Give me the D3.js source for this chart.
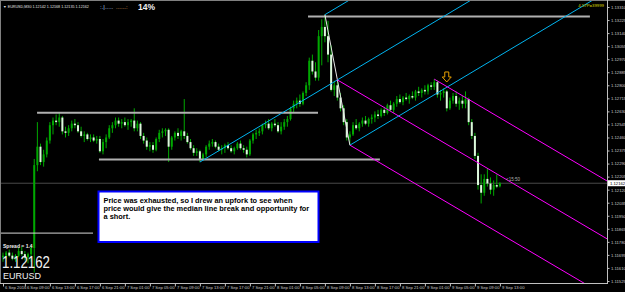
<!DOCTYPE html>
<html lang="en">
<head>
<meta charset="UTF-8">
<title>EURUSD,M30</title>
<script src="https://d3js.org/d3.v7.min.js"></script>
<style>
  html, body { margin: 0; padding: 0; background: #000; }
  svg { display: block; font-family: "Liberation Sans", Arial, sans-serif; }
  .axis path { display: none; }
  .axis line { stroke: #c0c0c0; }
  .axis text { fill: #c8c8c8; font-size: 4.2px; }
</style>
</head>
<body>
<svg width="625" height="292"></svg>
<script>
// price axis ticks
const priceTicks = [1.13310, 1.13225, 1.13140, 1.13055, 1.12970, 1.12885, 1.12800, 1.12715,
  1.12630, 1.12545, 1.12460, 1.12375, 1.12290, 1.12205, 1.12120, 1.12035, 1.11950,
  1.11865, 1.11780, 1.11695, 1.11610, 1.11525];

// time axis (bar index of each label)
const timeTickBars = [0, 7, 15, 23, 31, 39, 47, 55, 63, 71, 79, 87, 95, 103, 111, 119, 127, 135, 143, 151, 159];
const timeTickLabels = ["6 Sep 2016", "6 Sep 09:00", "6 Sep 13:00", "6 Sep 17:00", "6 Sep 21:00",
  "7 Sep 01:00", "7 Sep 05:00", "7 Sep 09:00", "7 Sep 13:00", "7 Sep 17:00", "7 Sep 21:00",
  "8 Sep 01:00", "8 Sep 05:00", "8 Sep 09:00", "8 Sep 13:00", "8 Sep 17:00", "8 Sep 21:00",
  "9 Sep 01:00", "9 Sep 05:00", "9 Sep 09:00", "9 Sep 13:00"];

// M30 candles: open, high, low, close
const candles = [
  [1.1168,1.1171,1.1165,1.1169],[1.1169,1.1172,1.1167,1.1171],[1.1171,1.1173,1.1168,1.1169],[1.1169,1.1171,1.1166,1.1167],
  [1.1167,1.1170,1.1165,1.1169],[1.1169,1.1174,1.1168,1.1172],[1.1172,1.1175,1.1169,1.1170],[1.1170,1.1172,1.1166,1.1168],
  [1.1168,1.1171,1.1164,1.1170],[1.1170,1.1176,1.1165,1.1174],[1.1174,1.1232,1.1158,1.1228],[1.1228,1.1256,1.1224,1.1240],
  [1.1240,1.1242,1.1228,1.1230],[1.1230,1.1238,1.1227,1.1235],[1.1235,1.1246,1.1233,1.1244],[1.1244,1.1256,1.1242,1.1254],
  [1.1254,1.1259,1.1248,1.1257],[1.1257,1.1261,1.1254,1.1256],[1.1256,1.1262,1.1253,1.1259],[1.1259,1.1260,1.1248,1.1250],
  [1.1250,1.1253,1.1246,1.1249],[1.1249,1.1254,1.1247,1.1252],[1.1252,1.1257,1.1250,1.1255],[1.1255,1.1258,1.1252,1.1254],
  [1.1254,1.1256,1.1249,1.1250],[1.1250,1.1253,1.1246,1.1247],[1.1247,1.1250,1.1243,1.1248],[1.1248,1.1249,1.1244,1.1245],
  [1.1245,1.1248,1.1243,1.1246],[1.1246,1.1248,1.1243,1.1244],[1.1244,1.1247,1.1242,1.1245],[1.1245,1.1247,1.1236,1.1237],
  [1.1237,1.1245,1.1235,1.1243],[1.1243,1.1248,1.1239,1.1246],[1.1246,1.1254,1.1245,1.1252],[1.1252,1.1256,1.1249,1.1254],
  [1.1254,1.1259,1.1252,1.1257],[1.1257,1.1259,1.1253,1.1255],[1.1255,1.1258,1.1252,1.1256],[1.1256,1.1259,1.1253,1.1254],
  [1.1254,1.1258,1.1251,1.1256],[1.1256,1.1258,1.1253,1.1257],[1.1257,1.1265,1.1250,1.1252],[1.1252,1.1257,1.1250,1.1255],
  [1.1255,1.1256,1.1245,1.1247],[1.1247,1.1249,1.1242,1.1244],[1.1244,1.1246,1.1238,1.1240],[1.1240,1.1243,1.1237,1.1241],
  [1.1241,1.1243,1.1236,1.1238],[1.1238,1.1246,1.1237,1.1245],[1.1245,1.1251,1.1243,1.1249],[1.1249,1.1252,1.1246,1.1250],
  [1.1250,1.1252,1.1247,1.1251],[1.1251,1.1252,1.1230,1.1240],[1.1240,1.1247,1.1238,1.1246],[1.1246,1.1250,1.1244,1.1249],
  [1.1249,1.1252,1.1245,1.1247],[1.1247,1.1251,1.1244,1.1250],[1.1250,1.1271,1.1245,1.1247],[1.1247,1.1249,1.1242,1.1243],
  [1.1243,1.1245,1.1238,1.1239],[1.1239,1.1241,1.1234,1.1236],[1.1236,1.1239,1.1234,1.1237],[1.1237,1.1238,1.1230,1.1232],
  [1.1232,1.1236,1.1231,1.1235],[1.1235,1.1241,1.1233,1.1240],[1.1240,1.1244,1.1238,1.1242],[1.1242,1.1245,1.1240,1.1243],
  [1.1243,1.1244,1.1239,1.1240],[1.1240,1.1242,1.1237,1.1238],[1.1238,1.1241,1.1235,1.1239],[1.1239,1.1242,1.1236,1.1241],
  [1.1241,1.1243,1.1238,1.1239],[1.1239,1.1241,1.1236,1.1237],[1.1237,1.1240,1.1235,1.1239],[1.1239,1.1243,1.1238,1.1242],
  [1.1242,1.1244,1.1238,1.1239],[1.1239,1.1241,1.1236,1.1238],[1.1238,1.1240,1.1233,1.1235],[1.1235,1.1245,1.1234,1.1244],
  [1.1244,1.1249,1.1242,1.1248],[1.1248,1.1251,1.1245,1.1249],[1.1249,1.1252,1.1247,1.1250],[1.1250,1.1255,1.1248,1.1254],
  [1.1254,1.1257,1.1252,1.1255],[1.1255,1.1258,1.1251,1.1252],[1.1252,1.1256,1.1250,1.1255],[1.1255,1.1258,1.1253,1.1254],
  [1.1254,1.1256,1.1249,1.1250],[1.1250,1.1256,1.1248,1.1253],[1.1253,1.1258,1.1251,1.1256],[1.1256,1.1260,1.1253,1.1258],
  [1.1258,1.1266,1.1257,1.1265],[1.1265,1.1270,1.1262,1.1268],[1.1268,1.1272,1.1265,1.1270],[1.1270,1.1274,1.1266,1.1268],
  [1.1268,1.1276,1.1267,1.1275],[1.1275,1.1282,1.1273,1.1280],[1.1280,1.1298,1.1277,1.1296],[1.1296,1.1300,1.1287,1.1289],
  [1.1289,1.1295,1.1283,1.1285],[1.1285,1.1316,1.1283,1.1312],[1.1312,1.1323,1.1293,1.1318],[1.1318,1.1326,1.1308,1.1312],
  [1.1312,1.1322,1.1295,1.1300],[1.1300,1.1306,1.1276,1.1277],[1.1277,1.1283,1.1273,1.1280],[1.1280,1.1282,1.1270,1.1272],
  [1.1272,1.1275,1.1263,1.1265],[1.1265,1.1267,1.1254,1.1256],[1.1256,1.1258,1.1244,1.1246],[1.1246,1.1250,1.1241,1.1248],
  [1.1248,1.1256,1.1247,1.1254],[1.1254,1.1258,1.1251,1.1252],[1.1252,1.1256,1.1250,1.1255],[1.1255,1.1259,1.1253,1.1257],
  [1.1257,1.1260,1.1254,1.1255],[1.1255,1.1259,1.1253,1.1258],[1.1258,1.1261,1.1255,1.1259],[1.1259,1.1263,1.1256,1.1261],
  [1.1261,1.1264,1.1258,1.1260],[1.1260,1.1265,1.1259,1.1264],[1.1264,1.1266,1.1260,1.1262],[1.1262,1.1268,1.1261,1.1267],
  [1.1267,1.1270,1.1263,1.1264],[1.1264,1.1269,1.1262,1.1268],[1.1268,1.1273,1.1266,1.1271],[1.1271,1.1274,1.1268,1.1269],
  [1.1269,1.1273,1.1267,1.1272],[1.1272,1.1275,1.1270,1.1271],[1.1271,1.1274,1.1268,1.1273],[1.1273,1.1276,1.1271,1.1272],
  [1.1272,1.1277,1.1270,1.1276],[1.1276,1.1279,1.1273,1.1275],[1.1275,1.1278,1.1272,1.1277],[1.1277,1.1280,1.1274,1.1276],
  [1.1276,1.1281,1.1274,1.1280],[1.1280,1.1282,1.1277,1.1279],[1.1279,1.1284,1.1277,1.1282],[1.1282,1.1283,1.1272,1.1274],
  [1.1274,1.1277,1.1270,1.1275],[1.1275,1.1278,1.1272,1.1276],[1.1276,1.1277,1.1263,1.1265],[1.1265,1.1272,1.1264,1.1270],
  [1.1270,1.1275,1.1268,1.1273],[1.1273,1.1276,1.1266,1.1268],[1.1268,1.1272,1.1264,1.1270],[1.1270,1.1273,1.1265,1.1268],
  [1.1268,1.1276,1.1265,1.1271],[1.1271,1.1272,1.1254,1.1256],[1.1256,1.1258,1.1245,1.1247],[1.1247,1.1249,1.1232,1.1234],
  [1.1234,1.1236,1.1212,1.1215],[1.1215,1.1222,1.1203,1.1210],[1.1210,1.1222,1.1208,1.1219],[1.1219,1.1226,1.1214,1.1216],
  [1.1216,1.1220,1.1209,1.1212],[1.1212,1.1218,1.1208,1.1215],[1.1215,1.1222,1.1213,1.1214],[1.12142,1.12168,1.12135,1.12162]
];

// horizontal lines drawn on the chart: from bar, to bar, price
const hLines = [
  { from: 10.9, to: 100.8, price: 1.12621, color: "#b0b0b0", w: 2 },
  { from: 30.7, to: 120.6, price: 1.12316, color: "#b0b0b0", w: 2 },
  { from: 97.6, to: 187.8, price: 1.13248, color: "#b0b0b0", w: 2 },
  { from: -1, to: 28.8, price: 1.11837, color: "#d8d8d8", w: 1 }
];
// handle of the upfork (swing high to swing low)
const segLines = [{ i1: 103, p1: 1.1326, i2: 111, p2: 1.1241, color: "#e8e8e8" }];
// pitchforks: [handle, point 2, point 3]
const upfork = [[63, 1.1230], [103, 1.1326], [111, 1.1241]];
const downfork = [[107, 1.12835], [138, 1.1284], [111, 1.1241]];
const arrowPoint = [142, 1.1289];
const bid = 1.12162;

const svg = d3.select("svg");
const W = 625, H = 292;
const plotRight = 607, plotBottom = 283;

svg.append("rect").attr("width", W).attr("height", H).attr("fill", "#000");

const x = d3.scaleLinear().domain([0, 159]).range([3, 499.9]);
const y = d3.scaleLinear().domain([1.11525, 1.13310]).range([281, 7]);

svg.append("clipPath").attr("id", "plot")
  .append("rect").attr("x", 1).attr("y", 1).attr("width", plotRight - 1).attr("height", plotBottom - 1);

const g = svg.append("g").attr("clip-path", "url(#plot)");

// bid line
g.append("line").attr("x1", 0).attr("x2", plotRight)
  .attr("y1", y(bid)).attr("y2", y(bid)).attr("stroke", "#4a4a4a").attr("stroke-width", 1);

// candles
const bull = "#00a800", bear = "#dcf8dc";
const cg = g.append("g");
cg.selectAll(".wick").data(candles).enter().append("line")
  .attr("x1", (d, i) => x(i)).attr("x2", (d, i) => x(i))
  .attr("y1", d => y(d[1])).attr("y2", d => y(d[2]))
  .attr("stroke", bull).attr("stroke-width", 1);
cg.selectAll(".body").data(candles).enter().append("rect")
  .attr("x", (d, i) => x(i) - 1)
  .attr("width", 2)
  .attr("y", d => y(Math.max(d[0], d[3])))
  .attr("height", d => Math.max(1, Math.abs(y(d[0]) - y(d[3]))))
  .attr("fill", d => d[3] >= d[0] ? bull : bear);

// horizontal lines
g.selectAll(".hline").data(hLines).enter().append("line")
  .attr("x1", d => x(d.from)).attr("x2", d => x(d.to))
  .attr("y1", d => y(d.price)).attr("y2", d => y(d.price))
  .attr("stroke", d => d.color).attr("stroke-width", d => d.w);

g.selectAll(".seg").data(segLines).enter().append("line")
  .attr("x1", d => x(d.i1)).attr("y1", d => y(d.p1))
  .attr("x2", d => x(d.i2)).attr("y2", d => y(d.p2))
  .attr("stroke", d => d.color).attr("stroke-width", 1);

// pitchfork: median from handle through middle of the two other points, parallels from them
function pitchfork(pts, color) {
  const [a, b, c] = pts;
  const mid = [(b[0] + c[0]) / 2, (b[1] + c[1]) / 2];
  const slope = (mid[1] - a[1]) / (mid[0] - a[0]);
  const end = 230;
  [a, b, c].forEach(p => {
    g.append("line")
      .attr("x1", x(p[0])).attr("y1", y(p[1]))
      .attr("x2", x(end)).attr("y2", y(p[1] + slope * (end - p[0])))
      .attr("stroke", color).attr("stroke-width", 1);
  });
}
pitchfork(upfork, "#00b4f0");
pitchfork(downfork, "#ff00ff");

// down arrow
g.append("path")
  .attr("transform", `translate(${x(arrowPoint[0])},${y(arrowPoint[1])})`)
  .attr("d", "M-2,0.5 h4 v5 h2.5 l-4.5,5 l-4.5,-5 h2.5 z")
  .attr("fill", "none").attr("stroke", "#e8a000").attr("stroke-width", 1);

// frame
svg.append("line").attr("x1", 0.5).attr("x2", 0.5).attr("y1", 0).attr("y2", plotBottom).attr("stroke", "#808080");
svg.append("line").attr("x1", 0).attr("x2", W).attr("y1", 0.5).attr("y2", 0.5).attr("stroke", "#808080");
svg.append("line").attr("x1", plotRight + 0.5).attr("x2", plotRight + 0.5).attr("y1", 0).attr("y2", plotBottom + 1)
  .attr("stroke", "#c0c0c0");
svg.append("line").attr("x1", 0).attr("x2", plotRight + 1).attr("y1", plotBottom + 0.5).attr("y2", plotBottom + 0.5)
  .attr("stroke", "#c0c0c0");

// price axis
svg.append("g").attr("class", "axis").attr("transform", `translate(${plotRight + 0.5},0)`)
  .call(d3.axisRight(y).tickValues(priceTicks).tickFormat(d3.format(".5f")).tickSize(2).tickPadding(1.5));

// bid label on the axis
svg.append("rect").attr("x", plotRight + 1).attr("y", y(bid) - 3).attr("width", 17).attr("height", 6).attr("fill", "#fff");
svg.append("text").attr("x", plotRight + 3).attr("y", y(bid) + 1.5)
  .attr("font-size", 4.2).attr("fill", "#000").text(bid.toFixed(5));

// time axis
const xAxis = svg.append("g").attr("class", "axis").attr("transform", `translate(0,${plotBottom + 0.5})`)
  .call(d3.axisBottom(x).tickValues(timeTickBars).tickFormat((d, k) => timeTickLabels[k]).tickSize(3));
xAxis.selectAll("text").attr("text-anchor", "start").attr("x", 1.5).attr("y", 2.2).attr("dy", "0.71em");

// header
svg.append("text").attr("x", 3).attr("y", 7.5).attr("font-size", 3.7).attr("fill", "#e0e0e0")
  .text("\u25BC EURUSD,M30 1.12142 1.12168 1.12135 1.12162");
svg.append("text").attr("x", 100).attr("y", 8.5).attr("font-size", 6).attr("fill", "#b8d8f0").text(":.|.....");
svg.append("text").attr("x", 116).attr("y", 8.5).attr("font-size", 6).attr("fill", "#e0b060").text("......:");
svg.append("text").attr("x", 138).attr("y", 9.5).attr("font-size", 8.5).attr("font-weight", "bold")
  .attr("fill", "#f0f0f0").text("14%");
svg.append("text").attr("x", 604).attr("y", 7).attr("text-anchor", "end").attr("font-size", 4.3)
  .attr("fill", "#d8d800").text("4.57P=39999");

// bar timer next to the bid line
svg.append("text").attr("x", 506).attr("y", y(bid) - 2.5).attr("font-size", 4.5).attr("fill", "#b0b0b0").text("<15:50");

// bottom left labels
svg.append("text").attr("x", 3).attr("y", 247.5).attr("font-size", 5).attr("font-weight", "bold")
  .attr("fill", "#f0f0f0").text("Spread = 1.4");
svg.append("text").attr("x", 2).attr("y", 268).attr("font-size", 17).attr("fill", "#f0f0f0")
  .attr("textLength", 48).attr("lengthAdjust", "spacingAndGlyphs").text("1.12162");
svg.append("text").attr("x", 3).attr("y", 279).attr("font-size", 9).attr("fill", "#f0f0f0").text("EURUSD");

// note box
svg.append("rect").attr("x", 98.5).attr("y", 191.5).attr("width", 220).attr("height", 50.5)
  .attr("fill", "#fff").attr("stroke", "#0000ff").attr("stroke-width", 2);
const note = ["Price was exhausted, so I drew an upfork to see when",
  "price would give the median line break and opportunity for",
  "a short."];
svg.selectAll(".note").data(note).enter().append("text")
  .attr("x", 103.5).attr("y", (d, i) => 203 + i * 8.2)
  .attr("font-size", 7.4).attr("font-weight", "bold").attr("fill", "#000").text(d => d);
</script>
</body>
</html>
